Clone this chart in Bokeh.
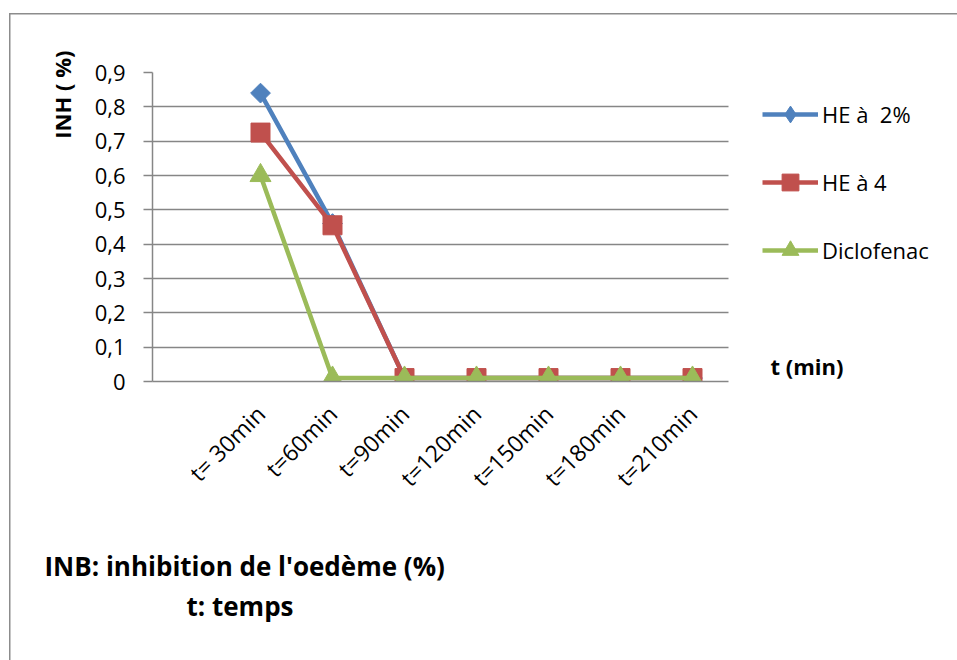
import math
from bokeh.plotting import figure
from bokeh.models import (Range1d, FixedTicker, CustomJSTickFormatter, Legend,
                          LegendItem, Title, Label, Grid)
from bokeh.embed import file_html
from bokeh.resources import INLINE

# ---- data ----
categories = ["t= 30min", "t=60min", "t=90min", "t=120min", "t=150min", "t=180min", "t=210min"]
he_2 = [0.84, 0.46, 0.01, 0.01, 0.01, 0.01, 0.01]
he_4 = [0.725, 0.455, 0.01, 0.01, 0.01, 0.01, 0.01]
diclofenac = [0.60, 0.01, 0.01, 0.01, 0.01, 0.01, 0.01]
series_names = ["HE à  2%", "HE à 4", "Diclofenac"]
y_ticks = [0, 0.1, 0.2, 0.3, 0.4, 0.5, 0.6, 0.7, 0.8, 0.9]

FONT = "Open Sans"
GRID = "#868686"
BLUE, RED, GREEN = "#4F81BD", "#C0504D", "#9BBB59"

# an empty leading category slot, as in the original chart
n_slots = len(categories) + 1
xpos = [i + 1.5 for i in range(len(categories))]

# plot area spans 576 px for the 8 category slots; the frame is extended to the
# right edge so the legend and the "t (min)" text can sit beside the plot area
PLOT_W, FRAME_W = 576, 805
x_end = n_slots * FRAME_W / PLOT_W

p = figure(width=957, height=660, output_backend="svg", toolbar_location=None,
           x_range=Range1d(0, x_end), y_range=Range1d(0, 0.9),
           min_border_left=152, min_border_right=0, min_border_top=72,
           min_border_bottom=279)
p.outline_line_color = None
p.background_fill_color = "white"
p.border_fill_alpha = 0
# outer chart border (drawn on the host element, below the transparent canvas border)
p.styles = {"background-color": "white",
            "box-shadow": "inset 9px 13px 0 0 white, inset 10.5px 14.5px 0 0 #8C8C8C"}

# axes
p.xaxis.ticker = FixedTicker(ticks=xpos)
p.xaxis.bounds = (0, n_slots)
p.xaxis.major_label_overrides = {x: c for x, c in zip(xpos, categories)}
p.xaxis.major_label_orientation = math.pi / 4
p.xaxis.major_label_text_font = FONT
p.xaxis.major_label_text_font_size = "23px"
p.xaxis.major_label_text_color = "black"
p.xaxis.major_tick_line_color = None
p.xaxis.minor_tick_line_color = None
p.xaxis.axis_line_color = GRID
p.xaxis.axis_line_width = 1.5
p.xaxis.major_label_standoff = 22

p.yaxis.ticker = FixedTicker(ticks=y_ticks)
p.yaxis.formatter = CustomJSTickFormatter(
    code="return tick == 0 ? '0' : tick.toFixed(1).replace('.', ',');")
p.yaxis.major_label_text_font = FONT
p.yaxis.major_label_text_font_size = "22px"
p.yaxis.major_label_text_color = "black"
p.yaxis.major_tick_line_color = GRID
p.yaxis.major_tick_line_width = 1.5
p.yaxis.major_tick_out = 9
p.yaxis.major_tick_in = 0
p.yaxis.minor_tick_line_color = None
p.yaxis.axis_line_color = GRID
p.yaxis.axis_line_width = 1.5
p.yaxis.major_label_standoff = 18

p.xgrid.grid_line_color = None
if "cross_bounds" in Grid.properties():
    p.ygrid.grid_line_color = GRID
    p.ygrid.grid_line_width = 1.5
    p.ygrid.cross_bounds = (0, n_slots)
else:
    p.ygrid.grid_line_color = None
    p.segment(x0=[0] * len(y_ticks), x1=[n_slots] * len(y_ticks), y0=y_ticks,
              y1=y_ticks, line_color=GRID, line_width=1.5, level="underlay")

# y axis title, near the top of the axis
p.add_layout(Title(text="INH ( %)", align="right", text_font=FONT,
                   text_font_style="bold", text_font_size="22px",
                   text_color="black", standoff=30, offset=-22), "left")

# series
l1 = p.line(xpos, he_2, line_color=BLUE, line_width=4.5)
# small diamonds hidden under the rotated squares; used for the legend symbol
d1 = p.scatter(xpos, he_2, marker="diamond", size=10, fill_color=BLUE, line_color=BLUE)
m1 = p.scatter(xpos, he_2, marker="square", angle=math.pi / 4, size=14,
               fill_color=BLUE, line_color=BLUE)
l2 = p.line(xpos, he_4, line_color=RED, line_width=4.5)
m2 = p.scatter(xpos, he_4, marker="square", size=19, fill_color=RED, line_color=RED)
l3 = p.line(xpos, diclofenac, line_color=GREEN, line_width=4.5)
m3 = p.scatter(xpos, diclofenac, marker="triangle", size=21, fill_color=GREEN,
               line_color=GREEN)

legend = Legend(items=[LegendItem(label=series_names[0], renderers=[l1, d1]),
                       LegendItem(label=series_names[1], renderers=[l2, m2]),
                       LegendItem(label=series_names[2], renderers=[l3, m3])],
                location=(610, 110), orientation="vertical",
                glyph_width=56, glyph_height=42, label_standoff=4, spacing=26,
                padding=0, margin=0, border_line_color=None,
                background_fill_alpha=0, label_text_font=FONT,
                label_text_font_size="22px", label_text_color="black")
p.add_layout(legend, "center")

p.add_layout(Label(x=618, y=16, x_units="screen", y_units="screen", text="t  (min)",
                   text_align="left", text_baseline="middle",
                   text_font=FONT, text_font_style="bold", text_font_size="22px",
                   text_color="black"))

# notes under the chart
p.add_layout(Title(text=" ", text_font_size="10px", standoff=23), "below")
p.add_layout(Title(text="INB: inhibition de l'oedème (%)", align="left", offset=-108,
                   text_font=FONT, text_font_style="bold", text_font_size="26px",
                   text_color="black", standoff=4), "below")
p.add_layout(Title(text="t: temps", align="left", offset=34,
                   text_font=FONT, text_font_style="bold", text_font_size="26px",
                   text_color="black", standoff=0), "below")

open("out.html", "w").write(file_html(p, INLINE))
